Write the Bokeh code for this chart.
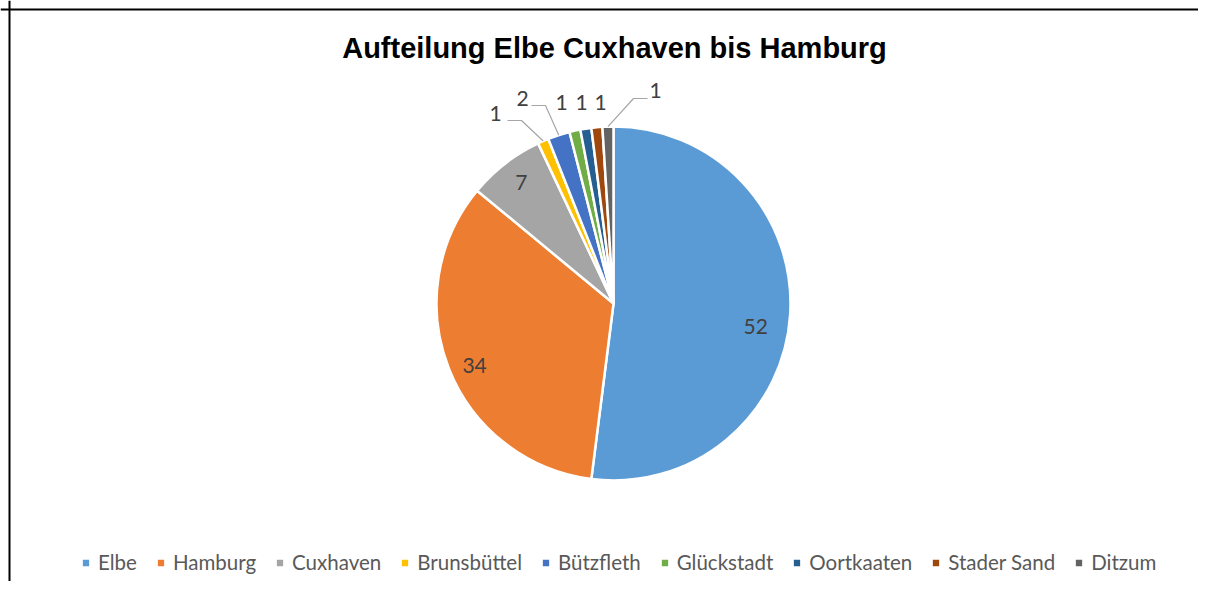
import math
from bokeh.plotting import figure
from bokeh.models import ColumnDataSource, Span, Legend, LegendItem
from bokeh.core.properties import value
from bokeh.embed import file_html
from bokeh.resources import INLINE

# ---- data ----
categories = ["Elbe", "Hamburg", "Cuxhaven", "Brunsbüttel", "Bützfleth",
              "Glückstadt", "Oortkaaten", "Stader Sand", "Ditzum"]
values = [52, 34, 7, 1, 2, 1, 1, 1, 1]
colors = ["#5b9bd5", "#ed7d31", "#a5a5a5", "#ffc000", "#4472c4",
          "#70ad47", "#255e91", "#9e480e", "#636363"]
title_text = "Aufteilung Elbe Cuxhaven bis Hamburg"

# ---- layout (pixels) ----
W, H = 1198, 581


def px(xi, yi):
    """pixel from top-left -> data coordinate"""
    return xi, H - yi


CX, CY = px(613, 303)
R = 177
LABEL_FRAC = 0.85
# inside label nudges (pixels, x right / y down)
inside_nudge = {0: (-8, 14), 1: (1, 7), 2: (0, -2)}
# outside labels: index -> (label position, elbow points) in pixels
outside = {
    3: ((495, 113), [(507, 120), (521, 120)]),
    4: ((522, 98), [(531, 105), (545, 105)]),
    5: ((561, 102), None),
    6: ((581, 102), None),
    7: ((600, 102), None),
    8: ((655, 90), [(647, 98), (633, 98)]),
}

total = float(sum(values))
starts, ends, mids = [], [], []
cum = 0.0
for v in values:
    a0 = math.pi / 2 - 2 * math.pi * (cum + v) / total
    a1 = math.pi / 2 - 2 * math.pi * cum / total
    starts.append(a0)
    ends.append(a1)
    mids.append((a0 + a1) / 2)
    cum += v

p = figure(width=W, height=H, x_range=(0, W), y_range=(0, H),
           output_backend="svg", toolbar_location=None, min_border=0,
           outline_line_color=None)
p.axis.visible = False
p.grid.visible = False
p.background_fill_color = "white"
p.border_fill_color = "white"

src = ColumnDataSource(dict(x=[CX] * len(values), y=[CY] * len(values),
                            start=starts, end=ends, color=colors,
                            name=categories))
wr = p.wedge(x="x", y="y", radius=R, start_angle="start", end_angle="end",
             fill_color="color", line_color="white", line_width=2.5,
             source=src)

# inside labels
ix, iy, it = [], [], []
for i, v in enumerate(values):
    if i in outside:
        continue
    dx, dy = inside_nudge.get(i, (0, 0))
    ix.append(CX + LABEL_FRAC * R * math.cos(mids[i]) + dx)
    iy.append(CY + LABEL_FRAC * R * math.sin(mids[i]) - dy)
    it.append(str(v))
p.text(x=ix, y=iy, text=it, text_font=value("Lato"), text_font_size="21px",
       text_color="#404040", text_align="center", text_baseline="middle")

# outside labels + leader lines
ox, oy, ot = [], [], []
for i, (lab, elbow) in outside.items():
    lx, ly = px(*lab)
    ox.append(lx); oy.append(ly); ot.append(str(values[i]))
    if elbow:
        ex = CX + R * math.cos(mids[i])
        ey = CY + R * math.sin(mids[i])
        pts = [px(*e) for e in elbow]
        xs = [pts[0][0], pts[1][0], ex]
        ys = [pts[0][1], pts[1][1], ey]
        p.line(xs, ys, line_color="#a6a6a6", line_width=1.2)
p.text(x=ox, y=oy, text=ot, text_font=value("Lato"), text_font_size="21px",
       text_color="#404040", text_align="center", text_baseline="middle")

# title
tx, ty = px(614, 47)
p.text(x=[tx], y=[ty], text=[title_text], text_font=value("Liberation Sans"),
       text_font_style="bold", text_font_size="29px", text_color="black",
       text_align="center", text_baseline="middle")

# border (left and top)
p.add_layout(Span(location=9, dimension="height", line_color="black", line_width=2))
p.add_layout(Span(location=H - 9, dimension="width", line_color="black", line_width=2))

legend = Legend(items=[LegendItem(label=c, renderers=[wr], index=i)
                       for i, c in enumerate(categories)],
                orientation="horizontal", location=(80, 7),
                glyph_width=11, glyph_height=11, label_standoff=7, spacing=18,
                padding=0, margin=0, border_line_color=None,
                background_fill_alpha=0, label_text_font="Lato",
                label_text_font_size="20.5px", label_text_color="#595959",
                label_height=22)
p.add_layout(legend, "center")

open("out.html", "w").write(file_html(p, INLINE))
